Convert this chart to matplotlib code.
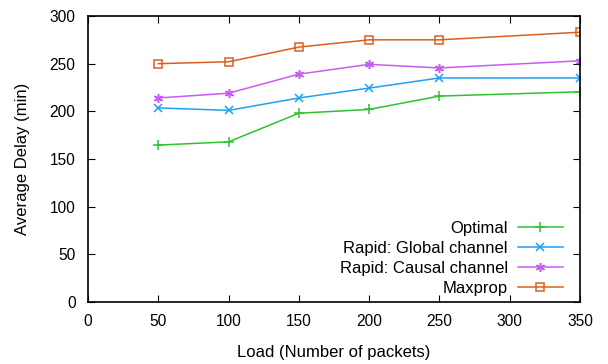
import matplotlib
matplotlib.use("Agg")
import matplotlib.pyplot as plt

loads = [50, 100, 150, 200, 250, 350]
optimal = [164.6, 168, 198, 202, 216, 220.5]
rapid_global = [203.6, 201, 214, 224.4, 235, 235]
rapid_causal = [214, 219, 239, 249.3, 245.5, 253]
maxprop = [250, 252, 267.4, 275, 275, 283]

plt.rcParams['font.family'] = ['Liberation Sans', 'DejaVu Sans']

fig = plt.figure(figsize=(6.08, 3.64), dpi=100)
ax = fig.add_axes([88/608, 1-302/364, (580-88)/608, (302-16)/364])

ax.plot(loads, optimal, color='#2ec22e', marker='+', ms=6.5, mew=1.1, lw=1.1, label='Optimal')
ax.plot(loads, rapid_global, color='#1ea2f5', marker='x', ms=5.5, mew=1.1, lw=1.1, label='Rapid: Global channel')
ax.plot(loads, rapid_causal, color='#c95bf5', marker=(6, 2, 0), ms=6.5, mew=1.1, lw=1.1, label='Rapid: Causal channel')
ax.plot(loads, maxprop, color='#d8601c', marker='s', ms=5.5, mew=1.1, mfc='none', lw=1.1, label='Maxprop')

ax.set_xlim(0, 350)
ax.set_ylim(0, 300)
ax.set_xticks(range(0, 351, 50))
ax.set_yticks(range(0, 301, 50))
ax.tick_params(direction='in', top=True, right=True, length=5, labelsize=11.2)
ax.tick_params(axis='y', pad=9)
ax.tick_params(axis='x', pad=9)
for s in ax.spines.values():
    s.set_linewidth(1.2)

ax.set_xlabel('Load (Number of packets)', fontsize=12, labelpad=11)
ax.set_ylabel('Average Delay (min)', fontsize=12, labelpad=14)

ax.legend(loc='lower right', frameon=False, markerfirst=False, fontsize=12,
          handlelength=2.7, handletextpad=0.6, labelspacing=0.3,
          borderpad=0, borderaxespad=0,
          bbox_to_anchor=(0.9654, 0.02))

fig.savefig('out.png', dpi=100)
